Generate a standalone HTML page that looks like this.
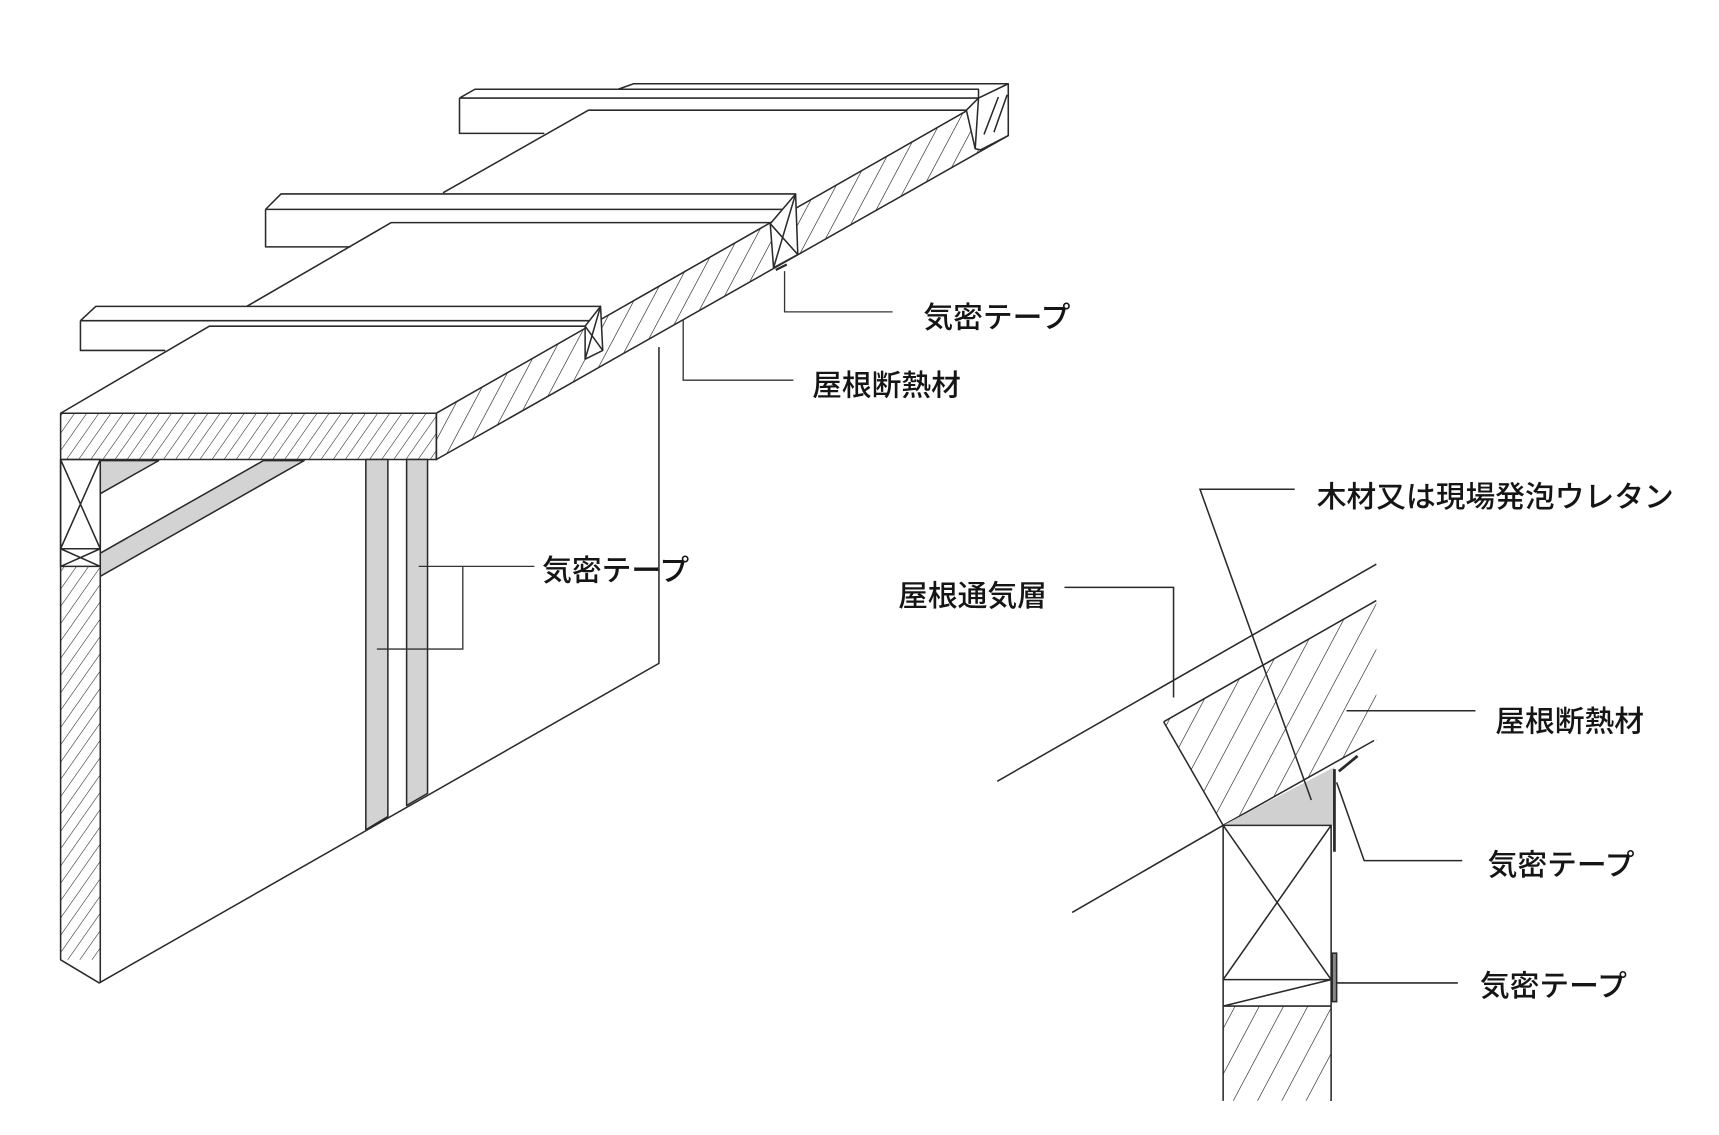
<!DOCTYPE html>
<html><head><meta charset="utf-8"><style>
html,body{margin:0;padding:0;background:#fff}
svg{display:block}
text{font-family:"Liberation Sans","Noto Sans CJK JP",sans-serif;font-size:27px;fill:#151515;font-weight:500}
</style></head><body>
<svg width="1719" height="1135" viewBox="0 0 1560 1030" xmlns="http://www.w3.org/2000/svg">
<defs>
<pattern id="h" patternUnits="userSpaceOnUse" width="11" height="20" patternTransform="skewX(-35)">
<line x1="0" y1="0" x2="0" y2="20" stroke="#222" stroke-width="1.2"/>
</pattern>
<pattern id="h2" patternUnits="userSpaceOnUse" width="16" height="20" patternTransform="skewX(-28)">
<line x1="0" y1="0" x2="0" y2="20" stroke="#222" stroke-width="1.3"/>
</pattern>
<pattern id="h3" patternUnits="userSpaceOnUse" width="22" height="20" patternTransform="skewX(-28)">
<line x1="0" y1="0" x2="0" y2="20" stroke="#222" stroke-width="1.3"/>
</pattern>
</defs>
<g fill="none" stroke="#2a2a2a" stroke-width="1.4" stroke-linejoin="round">
<path d="M417,89 L431,81 L888,81 L888,89 M417,89 H888 V121 M417,89 V121 H494" />
<path d="M561,81 L575,76 L915,76" />
<path d="M241,190 L255,176 L722,176 M241,190 H720 M241,190 V224 H318" />
<path d="M73,291 L87,278 L545,278 M73,291 H543 M73,291 V318 H150" />
<path d="M55,375 L190,296 H531" />
<path d="M224,278 L355,202 H699" />
<path d="M402,175 L534,100 H877" />
<rect x="55" y="375" width="341" height="42" fill="url(#h)"/>
<path d="M396,375 L915,79 L915,123 L396,417 Z" fill="url(#h2)"/>
<path d="M531,296 L545,278 L547,318 L531,326 Z" fill="#fff"/>
<path d="M531,296 L547,318 M545,278 L531,326"/>
<path d="M699,203 L722,176 L724,231 L702,243 Z" fill="#fff"/>
<path d="M699,203 L724,231 M722,176 L702,243"/>
<path d="M877,100 L888,89 L915,76 L915,123 L890,136 L885,135 Z" fill="#fff"/>
<path d="M888,89 L885,135"/>
<path d="M893,122 L906,88 M902,120 L914,86" />
<path d="M704,245 L714,240" stroke-width="2"/>
<path d="M55,417 V871 L90,892 L598,602 V315" />
<path d="M91,417 V892" />
<rect x="55" y="514" width="36" height="357" fill="url(#h)" stroke="none"/>
<path d="M55,417 H91 V514 H55 Z M55,417 L91,498 M91,417 L55,498 M55,498 H91 M55,498 L91,514 M55,514 L91,498"/>
<path d="M91,418 H144 L91,448 Z" fill="#d3d3d3"/>
<path d="M91,502 L239,418 H276 L91,523 Z" fill="#d3d3d3"/>
<path d="M332,417 V753 L352,741 V417 Z" fill="#d3d3d3"/>
<path d="M369,417 V731 L388,720 V417 Z" fill="#d3d3d3"/>
</g>
<g fill="none" stroke="#333" stroke-width="1.2">
<path d="M712,246 V283 H810"/>
<path d="M620,290 V345 H720"/>
<path d="M380,514 H485 M420,514 V589 H342"/>
</g>
<text x="838" y="297">気密テープ</text>
<text x="737" y="359">屋根断熱材</text>
<text x="492" y="527">気密テープ</text>

<g fill="none" stroke="#2a2a2a" stroke-width="1.4">
<path d="M905,709 L1249,512"/>
<path d="M973,828 L1110,749"/>
<clipPath id="ins"><path d="M1056,655 L1249,545 L1249,672 L1110,749 Z"/></clipPath>
<rect x="1050" y="540" width="200" height="215" fill="url(#h3)" clip-path="url(#ins)" stroke="none"/>
<path d="M1056,655 L1249,545 M1056,655 L1110,749 L1247,672"/>
<path d="M1110,749 L1211,696 V749 Z" fill="#d0d0d0" stroke="none"/>
<path d="M1110,749 H1208 V999 M1110,749 V999 M1110,749 L1208,889 M1208,749 L1110,889 M1110,889 H1208 M1110,913 H1208 M1110,913 L1208,889"/>
<clipPath id="wl"><rect x="1110" y="913" width="98" height="86"/></clipPath>
<rect x="1110" y="913" width="98" height="86" fill="url(#h3)" clip-path="url(#wl)" stroke="none"/>
<path d="M1211,698 V773 M1215,700 L1232,686" stroke-width="2.5"/>
<rect x="1209" y="865" width="4" height="44" fill="#888"/>
<path d="M1175,444 H1089 L1190,726"/>
<path d="M966,533 H1065 V633"/>
<path d="M1222,645 H1339"/>
<path d="M1213,710 L1238,781 H1327"/>
<path d="M1213,892 H1323"/>
</g>
<text x="1195" y="460">木材又は現場発泡ウレタン</text>
<text x="815" y="550">屋根通気層</text>
<text x="1357" y="664">屋根断熱材</text>
<text x="1350" y="794">気密テープ</text>
<text x="1343" y="904">気密テープ</text>
</svg>
</body></html>
